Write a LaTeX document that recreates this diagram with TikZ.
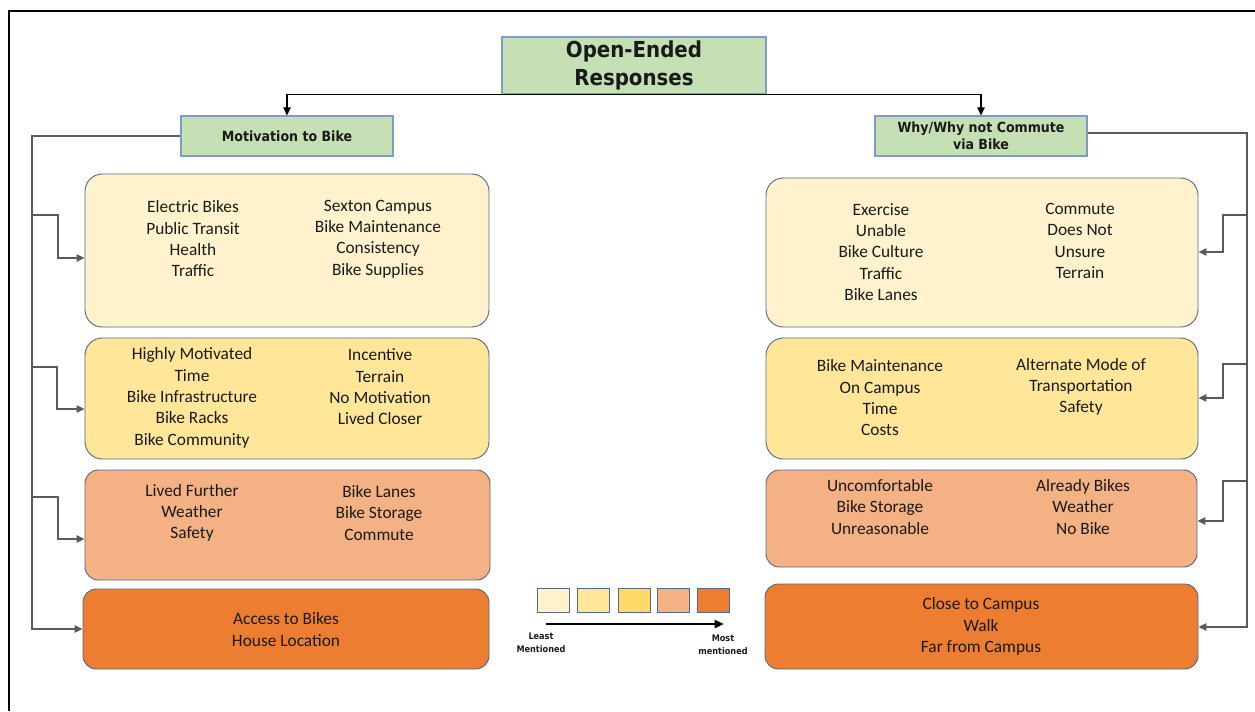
\documentclass[tikz,border=0pt]{standalone}
\usepackage{fontspec}
\setmainfont{Carlito}
\newfontfamily\hdfont[FakeStretch=0.9]{DejaVu Sans}
\usetikzlibrary{fit,arrows.meta}

\definecolor{hdgreen}{HTML}{C5E0B4}
\definecolor{hdedge}{HTML}{7F9CC8}
\definecolor{boxedge}{HTML}{56688A}
\definecolor{tierA}{HTML}{FFF2CC}
\definecolor{tierB}{HTML}{FFE699}
\definecolor{tierC}{HTML}{FFD966}
\definecolor{tierD}{HTML}{F4B183}
\definecolor{tierE}{HTML}{ED7D31}
\definecolor{ink}{HTML}{1A1A1A}
\definecolor{wire}{HTML}{5A5A5A}

\tikzset{
  header/.style={draw=hdedge, line width=0.8pt, fill=hdgreen, inner sep=0pt,
    minimum width=159pt, minimum height=30pt,
    align=center, text=ink, font=\hdfont\bfseries\fontsize{10.5}{12.5}\selectfont},
  tierbox/.style={draw=boxedge, line width=0.7pt, inner sep=0pt, rounded corners=#1},
  tierbox/.default=13pt,
  items/.style={align=center, text=ink, inner sep=0pt,
    font=\fontsize{13}{16}\selectfont},
  wirestyle/.style={draw=wire, line width=1.1pt},
  tip/.style={-{Triangle[length=6pt,width=5.5pt]}},
  swatch/.style={draw=boxedge, line width=0.7pt, inner sep=0pt,
    minimum width=24pt, minimum height=18.5pt},
  legendtext/.style={align=center, text=ink, inner sep=0pt,
    font=\hdfont\bfseries\fontsize{6.8}{10}\selectfont}
}

\begin{document}
\begin{tikzpicture}[x=0.75pt,y=-0.75pt]
\useasboundingbox (0,0) rectangle (1255,711);

% outer frame (top and left rules)
\draw[line width=1.6pt] (9,711) -- (9,11) -- (1255,11);

% headings
\node[header, minimum width=198pt, minimum height=42.75pt,
      font=\hdfont\bfseries\fontsize{16.5}{21}\selectfont] (title) at (634,65.5) {Open-Ended\\Responses};
\node[header] (ml) at (287,136) {Motivation to Bike};
\node[header] (mr) at (981,136) {Why/Why not Commute\\via Bike};

% left tiers
\node[tierbox, fill=tierA, fit={(85,174) (489,327)}] (L1) {};
\node[tierbox, fill=tierB, fit={(85,338) (489,459)}] (L2) {};
\node[tierbox=10pt, fill=tierD, fit={(85,470) (490,580)}] (L3) {};
\node[tierbox=10pt, fill=tierE, fit={(83,589) (489,669)}] (L4) {};

\node[items] (L1a) at (193,239) {Electric Bikes\\Public Transit\\Health\\Traffic};
\node[items] (L1b) at (378,239) {Sexton Campus\\Bike Maintenance\\Consistency\\Bike Supplies};
\node[items] (L2a) at (192,398) {Highly Motivated\\Time\\Bike Infrastructure\\Bike Racks\\Bike Community};
\node[items] (L2b) at (380,387) {Incentive\\Terrain\\No Motivation\\Lived Closer};
\node[items] (L3a) at (192,513) {Lived Further\\Weather\\Safety};
\node[items] (L3b) at (379,513) {Bike Lanes\\Bike Storage\\Commute};
\node[items] (L4a) at (286,629.5) {Access to Bikes\\House Location};

% right tiers
\node[tierbox, fill=tierA, fit={(766,178) (1198,327)}] (R1) {};
\node[tierbox, fill=tierB, fit={(766,338) (1198,459)}] (R2) {};
\node[tierbox=10pt, fill=tierD, fit={(766,470) (1197,567)}] (R3) {};
\node[tierbox=10pt, fill=tierE, fit={(765,584) (1198,669)}] (R4) {};

\node[items] (R1a) at (881,252) {Exercise\\Unable\\Bike Culture\\Traffic\\Bike Lanes};
\node[items] (R1b) at (1080,241) {Commute\\Does Not\\Unsure\\Terrain};
\node[items] (R2a) at (880,398) {Bike Maintenance\\On Campus\\Time\\Costs};
\node[items] (R2b) at (1081,387) {Alternate Mode of\\Transportation\\Safety};
\node[items] (R3a) at (880,507) {Uncomfortable\\Bike Storage\\Unreasonable};
\node[items] (R3b) at (1083,507) {Already Bikes\\Weather\\No Bike};
\node[items] (R4a) at (981,626.5) {Close to Campus\\Walk\\Far from Campus};

% title to headings
\draw[line width=0.8pt, tip] (title.south) -| (ml.north);
\draw[line width=0.8pt, tip] (title.south) -| (mr.north);

% left trunk and branches
\draw[wirestyle, tip] (ml.west) -| (32,629) -- (L4.west);
\draw[wirestyle, tip] (32,215) -| (58,258) -- (L1.west |- 0,258);
\draw[wirestyle, tip] (32,367) -| (57,409) -- (L2.west |- 0,409);
\draw[wirestyle, tip] (32,497) -| (58,539) -- (L3.west |- 0,539);

% right trunk and branches
\draw[wirestyle, tip] (mr.east |- 0,133) -| (1247,627) -- (R4.east |- 0,627);
\draw[wirestyle, tip] (1247,215) -| (1223,252) -- (R1.east |- 0,252);
\draw[wirestyle, tip] (1247,364) -| (1223,398) -- (R2.east |- 0,398);
\draw[wirestyle, tip] (1247,481) -| (1223,521) -- (R3.east |- 0,521);

% legend
\node[swatch, fill=tierA] (s1) at (553,600.5) {};
\node[swatch, fill=tierB] (s2) at (593.5,600.5) {};
\node[swatch, fill=tierC] (s3) at (634,600.5) {};
\node[swatch, fill=tierD] (s4) at (673,600.5) {};
\node[swatch, fill=tierE] (s5) at (713.5,600.5) {};
\coordinate (lgfrom) at (546,624);
\coordinate (lgto) at (724,624);
\draw[line width=1.9pt, -{Triangle[length=7pt,width=6pt]}] (lgfrom) -- (lgto);
\node[legendtext] (least) at (541,643) {Least\\Mentioned};
\node[legendtext] (most) at (723,645) {Most\\mentioned};
\end{tikzpicture}
\end{document}
